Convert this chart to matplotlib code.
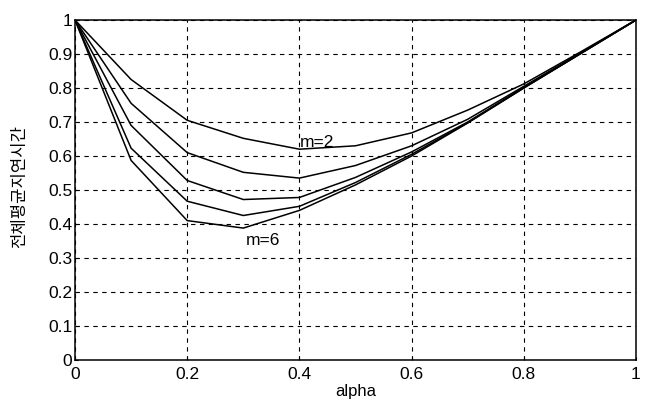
import matplotlib
matplotlib.use("Agg")
import matplotlib.pyplot as plt

alpha = [0.0, 0.1, 0.2, 0.3, 0.4, 0.5, 0.6, 0.7, 0.8, 0.9, 1.0]
m2 = [1.0, 0.825, 0.705, 0.652, 0.620, 0.630, 0.668, 0.735, 0.812, 0.905, 1.0]
m3 = [1.0, 0.755, 0.610, 0.552, 0.535, 0.572, 0.630, 0.708, 0.805, 0.902, 1.0]
m4 = [1.0, 0.690, 0.528, 0.472, 0.478, 0.537, 0.612, 0.700, 0.802, 0.900, 1.0]
m5 = [1.0, 0.623, 0.467, 0.425, 0.452, 0.522, 0.605, 0.698, 0.800, 0.900, 1.0]
m6 = [1.0, 0.587, 0.410, 0.388, 0.440, 0.515, 0.600, 0.697, 0.800, 0.900, 1.0]
series = [m2, m3, m4, m5, m6]
xticks = [0, 0.2, 0.4, 0.6, 0.8, 1]
yticks = [0, 0.1, 0.2, 0.3, 0.4, 0.5, 0.6, 0.7, 0.8, 0.9, 1]
xticklabels = ["0", "0.2", "0.4", "0.6", "0.8", "1"]
yticklabels = ["0", "0.1", "0.2", "0.3", "0.4", "0.5", "0.6", "0.7", "0.8", "0.9", "1"]
ylabel = "전체평균지연시간"
xlabel = "alpha"

plt.rcParams['font.family'] = ['Liberation Sans', 'Noto Sans CJK KR', 'DejaVu Sans']

fig = plt.figure(figsize=(6.57, 4.03), dpi=100)
ax = fig.add_axes([75/657, 43/403, (636-75)/657, (360-20)/403])

for s in series:
    ax.plot(alpha, s, color='black', linewidth=1.1)

ax.set_xlim(0, 1)
ax.set_ylim(0, 1)
ax.set_xticks(xticks)
ax.set_xticklabels(xticklabels)
ax.set_yticks(yticks)
ax.set_yticklabels(yticklabels)
ax.tick_params(direction='in', length=2, labelsize=12.5, colors='black')
ax.tick_params(axis='x', pad=5)
ax.tick_params(axis='y', pad=2)
ax.grid(True, color='black', linestyle=(0, (4, 4)), linewidth=0.8)
for sp in ax.spines.values():
    sp.set_linewidth(1.1)
    sp.set_color('black')

ax.text(0.4, 0.626, "m=2", fontsize=12.5, ha='left', va='baseline')
ax.text(0.304, 0.338, "m=6", fontsize=12.5, ha='left', va='baseline')

ax.set_xlabel(xlabel, fontsize=12)
ax.xaxis.set_label_coords(0.5, -0.07)
ax.set_ylabel(ylabel, fontsize=12, family=['Noto Sans CJK KR', 'DejaVu Sans'])
ax.yaxis.set_label_coords(-0.084, 0.51)

fig.savefig("out.png", dpi=100, facecolor='white')
